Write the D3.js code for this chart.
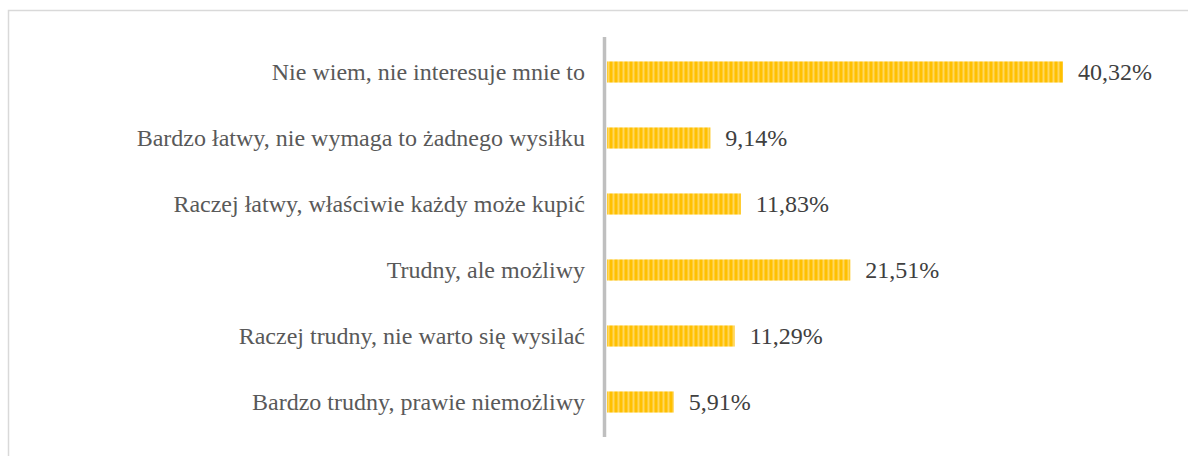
<!DOCTYPE html>
<html><head><meta charset="utf-8">
<script src="https://cdn.jsdelivr.net/npm/d3@7"></script>
<style>body{margin:0;background:#fff}svg{display:block}</style>
</head><body>
<script>
const categories = [
  "Nie wiem, nie interesuje mnie to",
  "Bardzo łatwy, nie wymaga to żadnego wysiłku",
  "Raczej łatwy, właściwie każdy może kupić",
  "Trudny, ale możliwy",
  "Raczej trudny, nie warto się wysilać",
  "Bardzo trudny, prawie niemożliwy"
];
const values = [40.32, 9.14, 11.83, 21.51, 11.29, 5.91];
const valueLabels = ["40,32%", "9,14%", "11,83%", "21,51%", "11,29%", "5,91%"];

const W = 1188, H = 456;
const svg = d3.select("body").append("svg").attr("width", W).attr("height", H);

// frame
svg.append("rect").attr("x", 8.5).attr("y", 10.5).attr("width", W).attr("height", H)
  .attr("fill", "none").attr("stroke", "#d9d9d9").attr("stroke-width", 1.5);

const defs = svg.append("defs");
const pat = defs.append("pattern").attr("id", "stripes").attr("patternUnits", "userSpaceOnUse")
  .attr("width", 5).attr("height", 10);
pat.append("rect").attr("width", 5).attr("height", 10).attr("fill", "#FFC000");
pat.append("rect").attr("x", 2.5).attr("width", 2).attr("height", 10).attr("fill", "#FFD760");

const x0 = 607;
const x = d3.scaleLinear().domain([0, 40.32]).range([x0, 1063]);
const y = d3.scaleBand().domain(categories).range([39, 435]).paddingInner(0.68).paddingOuter(0.34);

svg.selectAll("rect.bar").data(values).join("rect").attr("class", "bar")
  .attr("x", x(0)).attr("y", (d, i) => y(categories[i]))
  .attr("width", d => x(d) - x(0)).attr("height", y.bandwidth())
  .attr("fill", "url(#stripes)");

// axis line
svg.append("line").attr("x1", 604.5).attr("x2", 604.5).attr("y1", 37).attr("y2", 437)
  .attr("stroke", "#bfbfbf").attr("stroke-width", 3.5);

svg.selectAll("text.cat").data(categories).join("text").attr("class", "cat")
  .attr("x", 585).attr("y", d => y(d) + y.bandwidth() / 2)
  .attr("dy", "0.35em").attr("text-anchor", "end")
  .attr("font-family", "Liberation Serif, Times New Roman, serif")
  .attr("font-size", 24).attr("fill", "#595959").text(d => d);

svg.selectAll("text.val").data(values).join("text").attr("class", "val")
  .attr("x", d => x(d) + 15).attr("y", (d, i) => y(categories[i]) + y.bandwidth() / 2)
  .attr("dy", "0.35em")
  .attr("font-family", "Liberation Serif, Times New Roman, serif")
  .attr("font-size", 24).attr("fill", "#404040").text((d, i) => valueLabels[i]);
</script>
</body></html>
